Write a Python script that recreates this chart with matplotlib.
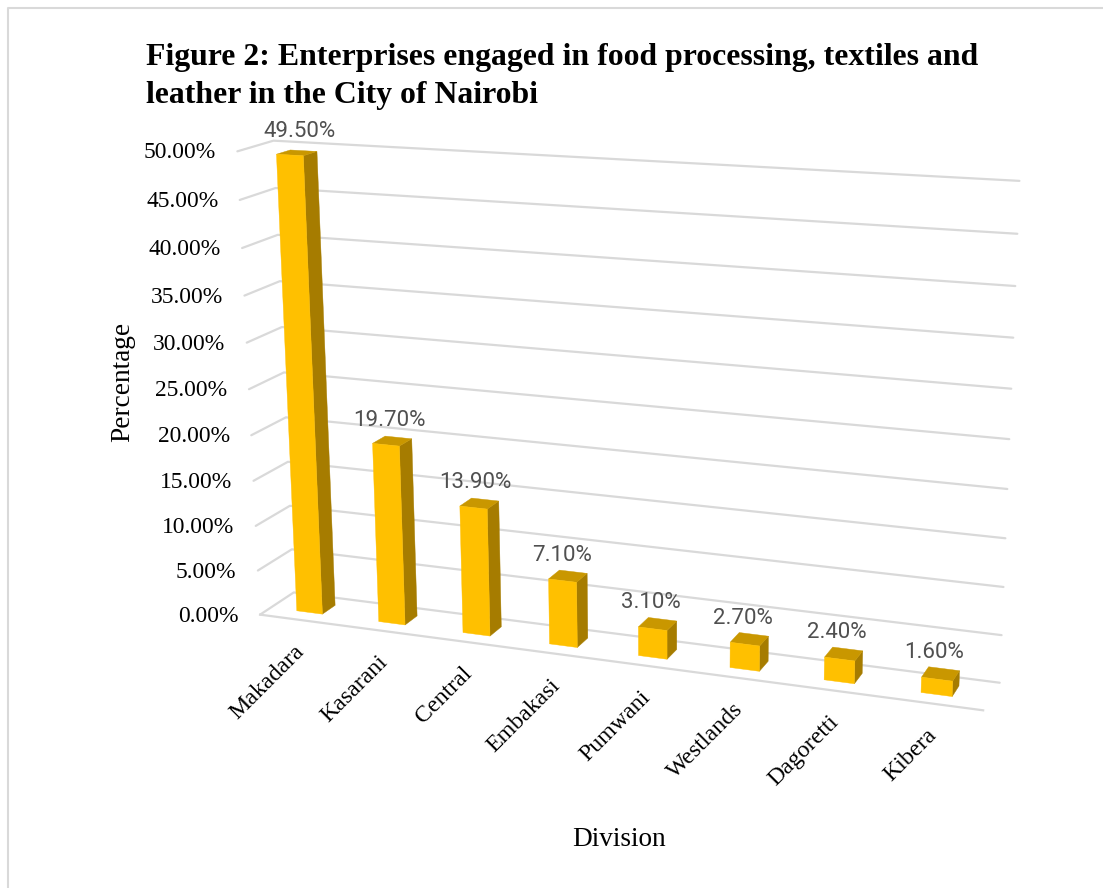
import matplotlib

matplotlib.use("Agg")
import matplotlib.pyplot as plt
import numpy as np
from matplotlib.patches import Polygon

divisions = [
    "Makadara",
    "Kasarani",
    "Central",
    "Embakasi",
    "Pumwani",
    "Westlands",
    "Dagoretti",
    "Kibera",
]
shares = [49.5, 19.7, 13.9, 7.1, 3.1, 2.7, 2.4, 1.6]
axis_ticks = [0, 5, 10, 15, 20, 25, 30, 35, 40, 45, 50]

FRONT = "#FFC000"
SIDE = "#A67C00"
TOP = "#C99700"
GRID = "#D9D9D9"
LABEL = "#505050"

BAR_LEFT, BAR_WIDTH = 0.32, 0.315
BAR_NEAR, BAR_FAR = 0.32, 0.71

# Camera calibration: (slot, depth, value) -> screen pixel
CAMERA_POINTS = [
    ((0, 0, 0), (260, 614)),
    ((8, 0, 0), (982, 711)),
    ((0, 1, 0), (293, 592)),
    ((8, 1, 0), (1000, 682)),
    ((0, 0, 50), (238, 151)),
    ((0, 1, 50), (273, 142)),
    ((8, 1, 50), (1020, 181)),
    ((8, 1, 25), (1009, 438)),
    ((0, 0, 25), (248, 388)),
    ((0.32, 0.32, 0), (298, 611)),
    ((1.32, 0.32, 0), (379, 622)),
    ((2.32, 0.32, 0), (463, 633)),
    ((3.32, 0.32, 0), (550, 644)),
    ((4.32, 0.32, 0), (639, 656)),
    ((7.32, 0.32, 0), (921, 693)),
]


def fit_camera(points):
    rows = []
    for (u, d, v), (x, y) in points:
        p = [u / 8, d, v / 50, 1]
        x, y = x / 1000, y / 1000
        rows.append(p + [0, 0, 0, 0] + [-x * c for c in p])
        rows.append([0, 0, 0, 0] + p + [-y * c for c in p])
    _, _, vt = np.linalg.svd(np.array(rows))
    return vt[-1].reshape(3, 4)


camera = fit_camera(CAMERA_POINTS)


def project(u, d, v):
    sx, sy, w = camera @ np.array([u / 8, d, v / 50, 1])
    return sx / w * 1000, sy / w * 1000


fig = plt.figure(figsize=(11.03, 8.88), dpi=100)
ax = fig.add_axes([0, 0, 1, 1])
ax.set_xlim(0, 1103)
ax.set_ylim(888, 0)
ax.axis("off")

# outer chart frame, runs off the right and bottom of the image
ax.plot([8, 8, 1110], [895, 8, 8], color=GRID, lw=1.5, zorder=1)

serif = "Liberation Serif"
ax.text(146, 58, "Figure 2: Enterprises engaged in food processing, textiles and",
        family=serif, weight="bold", fontsize=22.9, va="center", ha="left")
ax.text(146, 96, "leather in the City of Nairobi",
        family=serif, weight="bold", fontsize=22.9, va="center", ha="left")

# gridlines wrap from the side wall onto the back wall
for tick in axis_ticks:
    pts = [project(0, 0, tick), project(0, 1, tick), project(8, 1, tick)]
    ax.plot(*zip(*pts), color=GRID, lw=1.6, zorder=2, solid_capstyle="round")
    x, y = pts[0]
    ax.text(x - 21.5, y + 1.5, f"{tick:.2f}%", family=serif, fontsize=16.9,
            ha="right", va="center", color="black")
ax.plot(*zip(project(0, 0, 0), project(8, 0, 0)), color=GRID, lw=1.6, zorder=2)

for i, (name, value) in enumerate(zip(divisions, shares)):
    u0 = i + BAR_LEFT
    u1 = u0 + BAR_WIDTH
    faces = [
        (SIDE, [(u1, BAR_NEAR, 0), (u1, BAR_FAR, 0), (u1, BAR_FAR, value), (u1, BAR_NEAR, value)]),
        (TOP, [(u0, BAR_NEAR, value), (u1, BAR_NEAR, value), (u1, BAR_FAR, value), (u0, BAR_FAR, value)]),
        (FRONT, [(u0, BAR_NEAR, 0), (u1, BAR_NEAR, 0), (u1, BAR_NEAR, value), (u0, BAR_NEAR, value)]),
    ]
    for color, corners in faces:
        poly = [project(*c) for c in corners]
        ax.add_patch(Polygon(poly, closed=True, facecolor=color, edgecolor=color,
                             lw=0.3, zorder=3 + i * 0.01))

    # tall bars carry their label a little further right
    tx, ty = project((u0 + u1) / 2, (BAR_NEAR + BAR_FAR) / 2, value)
    ax.text(tx - 7 + 10 * value / 50, ty - 21, f"{value:.2f}%", family="Roboto",
            fontsize=16, color=LABEL, ha="center", va="center", zorder=5)

    lx, ly = project(i + 0.5, 0, 0)
    ax.text(lx - 7, ly + 21, name, family=serif, fontsize=17.2, rotation=45,
            rotation_mode="anchor", ha="right", va="top", zorder=5)

ax.text(123, 382, "Percentage", family=serif, fontsize=19.6, rotation=90,
        ha="center", va="center")
ax.text(619, 839, "Division", family=serif, fontsize=19.6, ha="center", va="center")

fig.savefig("out.png", dpi=100)
plt.close(fig)
